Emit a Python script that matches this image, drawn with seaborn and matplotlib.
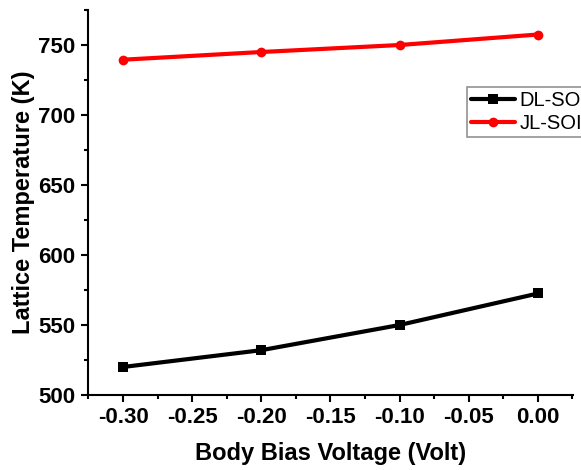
import pandas as pd
import matplotlib
matplotlib.use("Agg")
import matplotlib.pyplot as plt
from matplotlib.ticker import MultipleLocator
import seaborn as sns

bias = [-0.30, -0.20, -0.10, 0.00]
dl_soi = [520, 532, 550, 572.5]
jl_soi = [739.5, 745, 750, 757.5]

df = pd.DataFrame({
    "bias": bias * 2,
    "temp": dl_soi + jl_soi,
    "device": ["DL-SOI"] * 4 + ["JL-SOI"] * 4,
})

sns.set_style("ticks")
plt.rcParams['font.family'] = ['Liberation Sans', 'DejaVu Sans']
plt.rcParams['text.color'] = 'black'
plt.rcParams['axes.labelcolor'] = 'black'

fig = plt.figure(figsize=(5.81, 4.70), dpi=100)
ax = fig.add_axes([0.1515, 0.1596, 0.8345, 0.8191])

sns.lineplot(data=df, x="bias", y="temp", hue="device", style="device",
             markers={"DL-SOI": "s", "JL-SOI": "o"}, dashes=False,
             palette={"DL-SOI": "black", "JL-SOI": "red"},
             linewidth=3, markersize=7, markeredgewidth=0, ax=ax)

ax.set_xlim(-0.3253, 0.0253)
ax.set_ylim(500, 775)
ax.xaxis.set_minor_locator(MultipleLocator(0.025))
ax.yaxis.set_major_locator(MultipleLocator(50))
ax.yaxis.set_minor_locator(MultipleLocator(25))
ax.set_xticks([-0.30, -0.25, -0.20, -0.15, -0.10, -0.05, 0.00])
ax.set_xticklabels(["-0.30", "-0.25", "-0.20", "-0.15", "-0.10", "-0.05", "0.00"])

for s in ["top", "right"]:
    ax.spines[s].set_visible(False)
for s in ["left", "bottom"]:
    ax.spines[s].set_linewidth(1.5)
    ax.spines[s].set_color("black")

ax.tick_params(which="major", direction="out", length=5, width=1.5,
               labelsize=16, colors="black", pad=4)
ax.tick_params(which="minor", direction="out", length=3, width=1.5, colors="black")
for lbl in ax.get_xticklabels() + ax.get_yticklabels():
    lbl.set_fontweight("bold")

ax.set_xlabel("Body Bias Voltage (Volt)", fontsize=17, fontweight="bold", labelpad=10)
ax.set_ylabel("Lattice Temperature (K)", fontsize=17, fontweight="bold", labelpad=2.5)

leg = ax.legend(loc="upper left", bbox_to_anchor=(467 / 581, 1 - 87 / 470),
                bbox_transform=fig.transFigure, fontsize=14.5, frameon=True,
                fancybox=False, edgecolor="#777777", handlelength=2.2,
                borderpad=0.2, labelspacing=0.2, handletextpad=0.2,
                borderaxespad=0)
leg.get_frame().set_linewidth(1.2)
leg.set_title(None)

fig.savefig("out.png", dpi=100)
